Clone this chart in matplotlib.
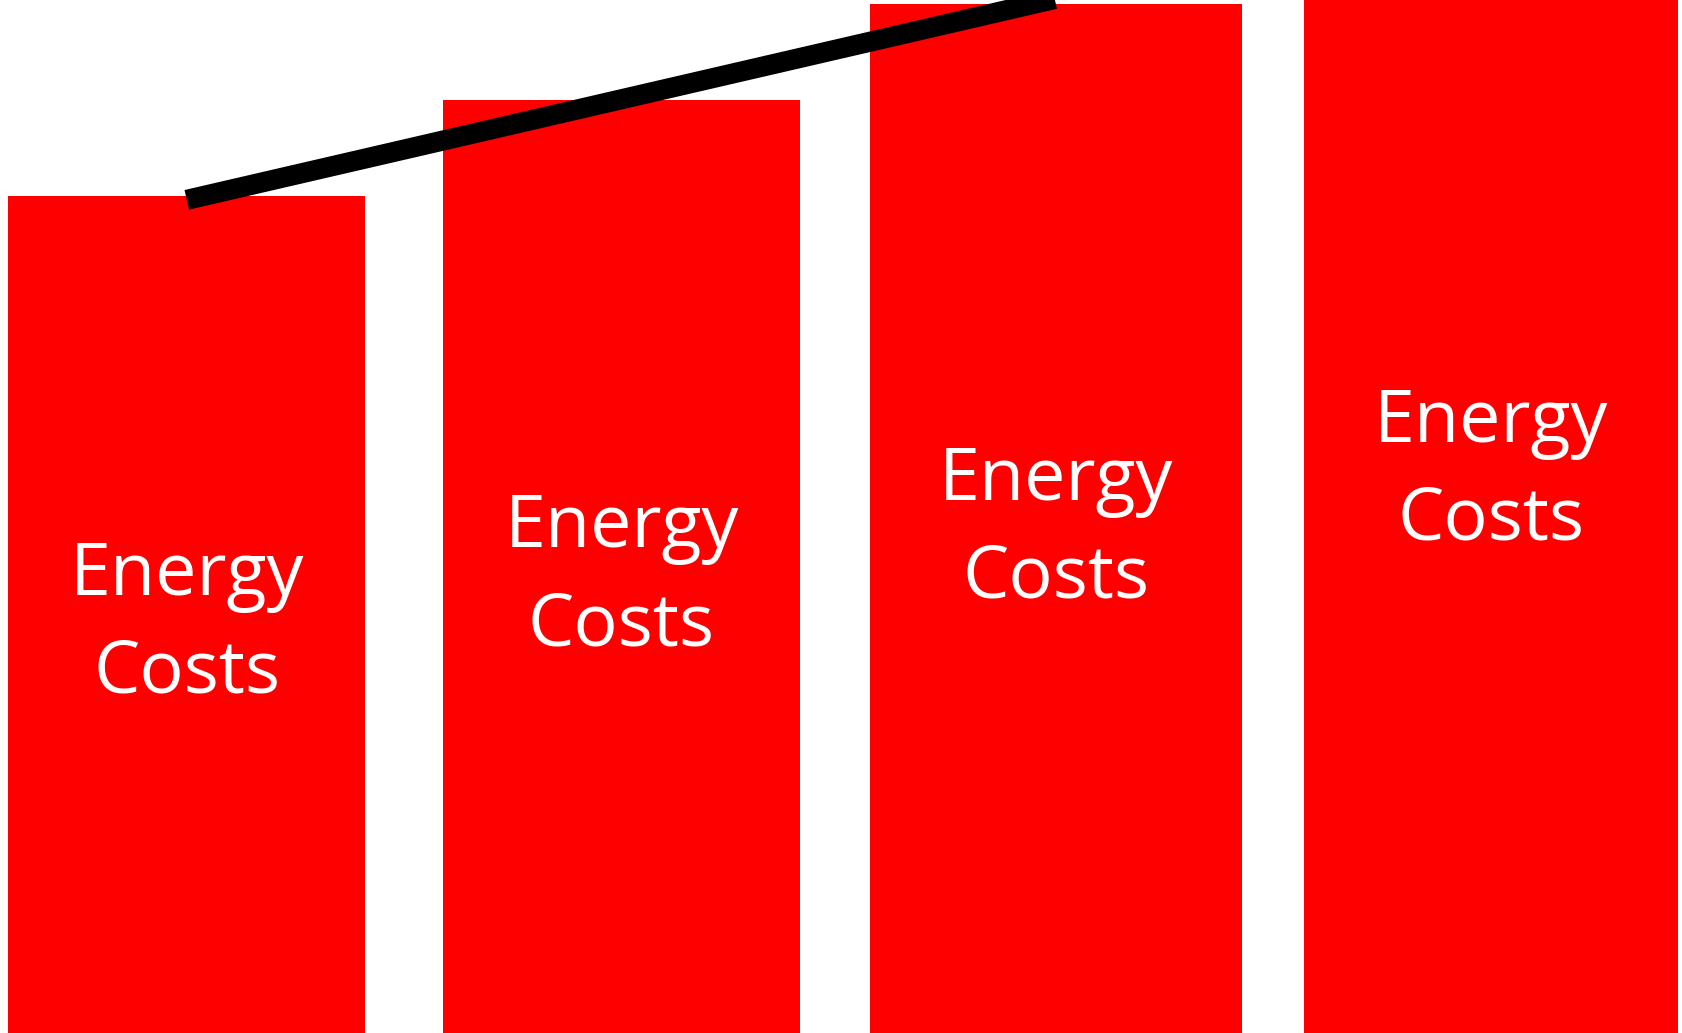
import matplotlib.pyplot as plt

# four years of energy costs, with the rising trend drawn over the bars
years = [0, 1, 2, 3]
costs = [88, 98, 108, 120]
trend = [87.6, 98.1, 108.6, 119.1]
labels = ["Energy\nCosts"] * 4

fig = plt.figure(figsize=(16.82, 10.33), dpi=100)
ax = fig.add_axes([0, 0, 1, 1])

ax.bar(years, costs, width=[0.821, 0.820, 0.856, 0.859], color="#ff0000")

# labels sit halfway up each bar, even where the bar runs off the top
for x, v, lab in zip(years, costs, labels):
    ax.annotate(lab, (x, v / 2), xytext=(0, -5.5), textcoords="offset points",
                ha="center", va="center", color="white", fontsize=53,
                family="Open Sans", linespacing=1.42)

ax.plot(years, trend, color="black", linewidth=14.5, solid_capstyle="butt")

ax.set_xlim(-0.4297, 3.4397)
ax.set_ylim(0.63, 108.46)
ax.axis("off")

fig.savefig("out.png", dpi=100)
